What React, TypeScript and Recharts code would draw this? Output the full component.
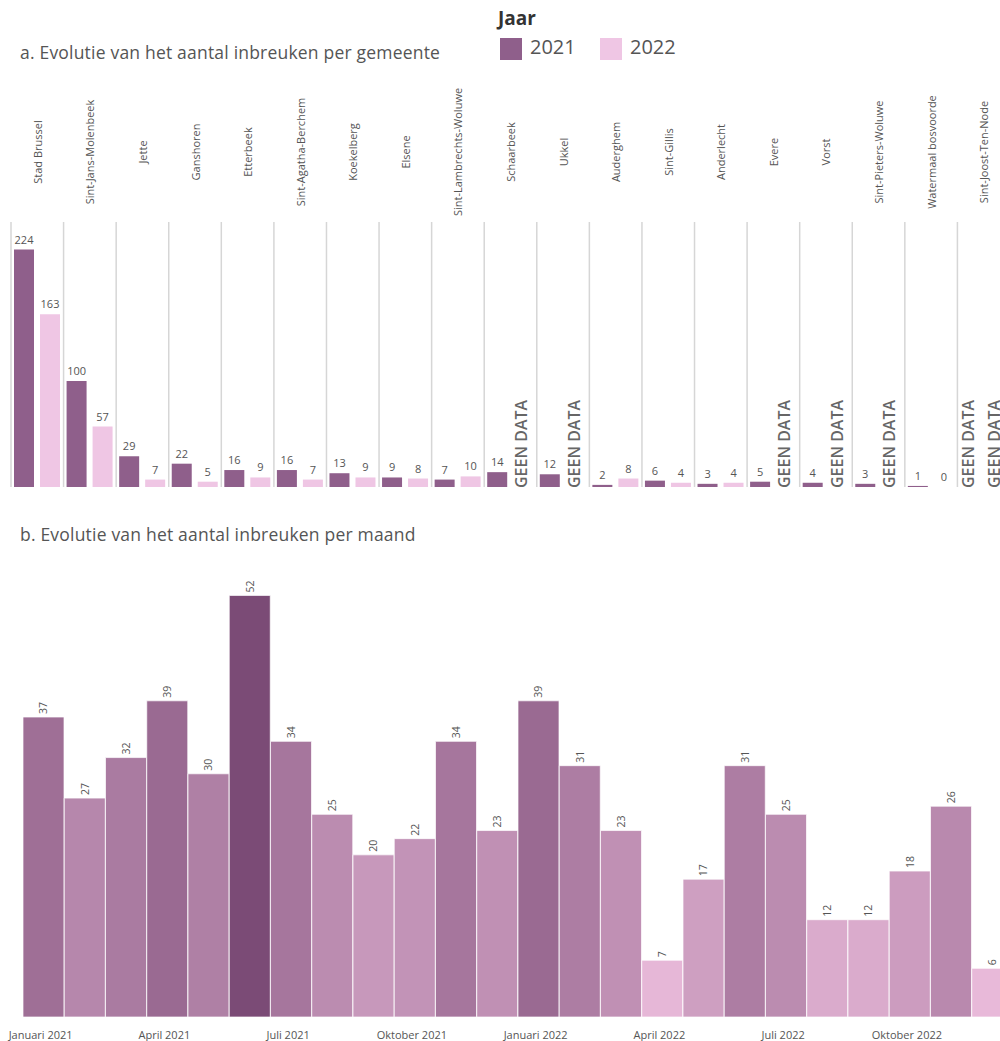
import React from 'react';
import { BarChart, Bar, XAxis, YAxis, CartesianGrid, LabelList, Cell } from 'recharts';

const gemeenten = [
  'Stad Brussel', 'Sint-Jans-Molenbeek', 'Jette', 'Ganshoren', 'Etterbeek',
  'Sint-Agatha-Berchem', 'Koekelberg', 'Elsene', 'Sint-Lambrechts-Woluwe', 'Schaarbeek',
  'Ukkel', 'Auderghem', 'Sint-Gillis', 'Anderlecht', 'Evere', 'Vorst',
  'Sint-Pieters-Woluwe', 'Watermaal bosvoorde', 'Sint-Joost-Ten-Node',
];
const jaar2021: (number | null)[] = [224, 100, 29, 22, 16, 16, 13, 9, 7, 14, 12, 2, 6, 3, 5, 4, 3, 1, null];
const jaar2022: (number | null)[] = [163, 57, 7, 5, 9, 7, 9, 8, 10, null, null, 8, 4, 4, null, null, null, 0, null];

const maanden = [
  'Januari 2021', 'Februari 2021', 'Maart 2021', 'April 2021', 'Mei 2021', 'Juni 2021',
  'Juli 2021', 'Augustus 2021', 'September 2021', 'Oktober 2021', 'November 2021', 'December 2021',
  'Januari 2022', 'Februari 2022', 'Maart 2022', 'April 2022', 'Mei 2022', 'Juni 2022',
  'Juli 2022', 'Augustus 2022', 'September 2022', 'Oktober 2022', 'November 2022', 'December 2022',
];
const inbreuken = [37, 27, 32, 39, 30, 52, 34, 25, 20, 22, 34, 23, 39, 31, 23, 7, 17, 31, 25, 12, 12, 18, 26, 6];

const C2021 = '#8f5f8b';
const C2022 = '#efc6e4';
const TEXT = '#555';
const GEEN = 'GEEN DATA';

const gemeenteData = gemeenten.map((name, i) => ({
  name,
  v2021: jaar2021[i] ?? 0,
  v2022: jaar2022[i] ?? 0,
  l2021: jaar2021[i] === null ? GEEN : String(jaar2021[i]),
  l2022: jaar2022[i] === null ? GEEN : String(jaar2022[i]),
}));

const maandData = maanden.map((name, i) => ({ name, value: inbreuken[i] }));

// gradient light pink -> dark purple, based on value
const light = [232, 185, 217];
const dark = [123, 75, 118];
const minV = Math.min(...inbreuken);
const maxV = Math.max(...inbreuken);
const colorFor = (v: number) => {
  const t = (v - minV) / (maxV - minV);
  const c = light.map((l, k) => Math.round(l + (dark[k] - l) * t));
  return `rgb(${c[0]},${c[1]},${c[2]})`;
};

// keep zero bars in the list so their labels are drawn
const tinyForZero = (v: any) => (Number(v) === 0 || v == null ? 0.01 : 0);

const GemeenteLabel = (props: any) => {
  const { x, y, width, height, value } = props;
  const cx = x + width / 2;
  if (value === GEEN) {
    const gx = cx - 2;
    const by = y + height + 1;
    return (
      <text
        x={gx}
        y={by}
        transform={`rotate(-90 ${gx} ${by})`}
        textAnchor="start"
        dominantBaseline="central"
        fontSize={16}
        fontWeight={600}
        fill="#666"
      >
        {GEEN}
      </text>
    );
  }
  return (
    <text x={cx} y={y - 6} textAnchor="middle" fontSize={11} fill={TEXT}>
      {value}
    </text>
  );
};

const GemeenteTick = (props: any) => {
  const { x, payload } = props;
  return (
    <text
      x={x}
      y={72}
      transform={`rotate(-90 ${x} 72)`}
      textAnchor="middle"
      dominantBaseline="central"
      fontSize={11}
      fill={TEXT}
    >
      {payload.value}
    </text>
  );
};

const MaandLabel = (props: any) => {
  const { x, y, width, value } = props;
  const cx = x + width / 2;
  const ty = y - 3;
  return (
    <text
      x={cx}
      y={ty}
      transform={`rotate(-90 ${cx} ${ty})`}
      textAnchor="start"
      dominantBaseline="central"
      fontSize={10.5}
      fill={TEXT}
    >
      {value}
    </text>
  );
};

const MaandTick = (props: any) => {
  const { x, payload } = props;
  return (
    <text x={x - 3} y={489} textAnchor="middle" fontSize={11} fill={TEXT}>
      {payload.value}
    </text>
  );
};

const titleStyle: React.CSSProperties = {
  position: 'absolute',
  left: 20,
  fontSize: 17.5,
  letterSpacing: 0.2,
  color: TEXT,
  whiteSpace: 'nowrap',
};

const App: React.FC = () => {
  const n = gemeenten.length;
  return (
    <div
      style={{
        position: 'absolute',
        left: 0,
        top: 0,
        width: 1000,
        height: 1041,
        overflow: 'hidden',
        background: '#fff',
        fontFamily: '"Open Sans", sans-serif',
      }}
    >
      <div style={{ ...titleStyle, top: 40 }}>a. Evolutie van het aantal inbreuken per gemeente</div>

      <div style={{ position: 'absolute', left: 498, top: 5, fontSize: 19, fontWeight: 700, color: '#333' }}>
        Jaar
      </div>
      <div style={{ position: 'absolute', left: 500, top: 38, width: 22, height: 22, background: C2021 }} />
      <div style={{ position: 'absolute', left: 530, top: 33, fontSize: 20, color: TEXT }}>2021</div>
      <div style={{ position: 'absolute', left: 600, top: 38, width: 22, height: 22, background: C2022 }} />
      <div style={{ position: 'absolute', left: 630, top: 33, fontSize: 20, color: TEXT }}>2022</div>

      <div style={{ position: 'absolute', left: 0, top: 80 }}>
        <BarChart
          width={1020}
          height={420}
          data={gemeenteData}
          margin={{ top: 0, right: 10, left: 11, bottom: 13 }}
          barSize={20}
          barGap={6}
        >
          <CartesianGrid
            horizontal={false}
            stroke="#d6d6d6"
            strokeWidth={1.5}
            verticalCoordinatesGenerator={({ offset }: any) =>
              Array.from({ length: n + 1 }, (_, i) => offset.left + (i * offset.width) / n)
            }
          />
          <XAxis
            dataKey="name"
            orientation="top"
            height={142}
            axisLine={false}
            tickLine={false}
            interval={0}
            tick={<GemeenteTick />}
          />
          <YAxis hide domain={[0, 250]} />
          <Bar dataKey="v2021" fill={C2021} minPointSize={tinyForZero} isAnimationActive={false}>
            <LabelList dataKey="l2021" content={<GemeenteLabel />} />
          </Bar>
          <Bar dataKey="v2022" fill={C2022} minPointSize={tinyForZero} isAnimationActive={false}>
            <LabelList dataKey="l2022" content={<GemeenteLabel />} />
          </Bar>
        </BarChart>
      </div>

      <div style={{ ...titleStyle, top: 522 }}>b. Evolutie van het aantal inbreuken per maand</div>

      <div style={{ position: 'absolute', left: 0, top: 550 }}>
        <BarChart
          width={1030}
          height={491}
          data={maandData}
          margin={{ top: 13, right: 17, left: 23, bottom: 0 }}
          barCategoryGap={0}
        >
          <XAxis
            dataKey="name"
            height={24}
            axisLine={false}
            tickLine={false}
            interval={2}
            tick={<MaandTick />}
          />
          <YAxis hide domain={[0, 56]} />
          <Bar dataKey="value" stroke="#ffffff" strokeOpacity={0.7} strokeWidth={1} isAnimationActive={false}>
            {maandData.map((d) => (
              <Cell key={d.name} fill={colorFor(d.value)} />
            ))}
            <LabelList dataKey="value" content={<MaandLabel />} />
          </Bar>
        </BarChart>
      </div>
    </div>
  );
};

export default App;
